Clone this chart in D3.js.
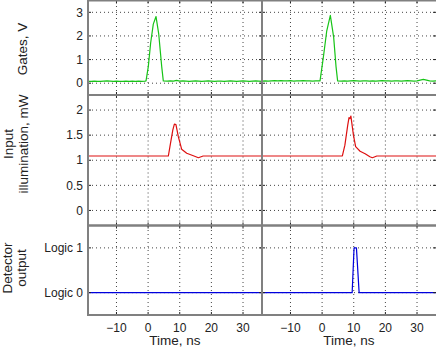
<!DOCTYPE html>
<html lang="en">
<head>
    <meta charset="UTF-8">
    <title>Gates, illumination and detector output</title>
    <style>
        body {
            margin: 0;
            background: #fff;
        }
        svg {
            display: block;
            font-family: 'Liberation Sans', Arial, Helvetica, sans-serif;
        }
        .grid line {
            stroke: #444;
            stroke-width: 1;
            stroke-dasharray: 1, 3;
        }
        .tick-mark {
            stroke: #222;
            stroke-width: 1;
        }
        .frame {
            stroke: #808080;
            stroke-width: 2;
        }
        .trace {
            fill: none;
            stroke-width: 1.2;
            stroke-linejoin: round;
        }
    </style>
</head>
<body>
    <svg id="chart" width="436" height="348"></svg>

    <script src="https://d3js.org/d3.v7.min.js"></script>
    <script>
        // time axis (ns) shared by all panels
        const timeTicks = [-10, 0, 10, 20, 30];

        // gate voltage, V
        const gateLeftTime = [-19,-18,-17,-16,-15,-14,-13,-12,-11,-10,-9,-8,-7,-6,-5,-4,-3,-2,-1,
            -0.66,0.06,0.8,1.64,2.5,3.35,4.3,4.8,
            6,7,8,9,10,11,12,13,14,15,16,17,18,19,20,21,22,23,24,25,26,27,28,29,30,31,32,33,34,35,36];
        const gateLeft = [0.08,0.08,0.09,0.08,0.08,0.09,0.1,0.09,0.08,0.09,0.08,0.08,0.09,0.08,0.09,0.08,0.09,0.08,0.09,
            0.1,0.7,1.7,2.5,2.82,2.09,0.7,0.1,
            0.09,0.1,0.09,0.12,0.09,0.1,0.09,0.08,0.09,0.1,0.09,0.08,0.09,0.1,0.09,0.08,0.09,0.09,0.08,0.09,0.1,0.09,0.08,0.09,0.1,0.09,0.08,0.09,0.1,0.09,0.08];
        const gateRightTime = [-19,-18,-17,-16,-15,-14,-13,-12,-11,-10,-9,-8,-7,-6,-5,-4,-3,-2,-1,
            -0.66,0.4,1.45,2.6,3.65,4.4,4.9,
            6,7,8,9,10,11,12,13,14,15,16,17,18,19,20,21,22,23,24,25,26,27,28,29,30,31,32,33,34,35,36];
        const gateRight = [0.09,0.1,0.09,0.1,0.11,0.1,0.11,0.1,0.1,0.11,0.09,0.1,0.1,0.11,0.1,0.1,0.09,0.1,0.1,
            0.1,1.1,2.2,2.87,1.95,0.7,0.1,
            0.09,0.1,0.09,0.1,0.11,0.1,0.09,0.1,0.1,0.09,0.1,0.09,0.1,0.11,0.1,0.1,0.09,0.1,0.1,0.09,0.1,0.11,0.1,0.09,0.1,0.13,0.16,0.13,0.1,0.09,0.1];

        // input illumination, mW
        const lightLeftTime = [-19,6.4,6.9,7.8,8.3,8.8,9.55,10.6,12.2,14.3,15.9,17.4,36];
        const lightLeft = [1.085,1.085,1.27,1.6,1.72,1.71,1.47,1.22,1.14,1.09,1.05,1.085,1.085];
        const lightRightTime = [-19,6.4,7.2,8.1,8.5,8.8,9.1,9.9,10.6,12.0,13.6,15.1,15.9,17.3,36];
        const lightRight = [1.085,1.085,1.3,1.7,1.85,1.83,1.88,1.5,1.27,1.18,1.13,1.07,1.05,1.085,1.085];

        // detector output, logic level
        const detLeftTime = [-19, 36];
        const detLeft = [0, 0];
        const detRightTime = [-19, 9.5, 10.1, 10.85, 11.7, 36];
        const detRight = [0, 0, 1, 1, 0, 0];

        const rows = [
            { label: ["Gates, V"], domain: [-0.5, 3.5], ticks: [0, 1, 2, 3], tickText: d => d,
              y0: 95, y1: 0.5, color: "#17c417",
              series: [[gateLeftTime, gateLeft], [gateRightTime, gateRight]], labelX: [26.5], labelY: 49 },
            { label: ["Input", "illumination, mW"], domain: [-0.3, 2.3], ticks: [0, 0.5, 1, 1.5, 2], tickText: d => d,
              y0: 225.5, y1: 95, color: "#dd1010",
              series: [[lightLeftTime, lightLeft], [lightRightTime, lightRight]], labelX: [13, 28], labelY: 144 },
            { label: ["Detector", "output"], domain: [-0.5, 1.5], ticks: [0, 1], tickText: d => "Logic " + d,
              y0: 315, y1: 225.5, color: "#0000dd",
              series: [[detLeftTime, detLeft], [detRightTime, detRight]], labelX: [11.5, 26], labelY: 268 }
        ];

        const columns = [[88, 262], [262, 436]];
        const svg = d3.select("#chart");
        const tickLen = 3;

        columns.forEach((range, c) => {
            const x = d3.scaleLinear().domain([-19, 36]).range(range);

            rows.forEach((row, r) => {
                const y = d3.scaleLinear().domain(row.domain).range([row.y0, row.y1]);
                const g = svg.append("g");

                // dotted grid
                const grid = g.append("g").attr("class", "grid");
                grid.selectAll("line.v")
                    .data(timeTicks)
                    .enter().append("line")
                    .attr("x1", d => x(d)).attr("x2", d => x(d))
                    .attr("y1", row.y0).attr("y2", row.y1);
                grid.selectAll("line.h")
                    .data(row.ticks)
                    .enter().append("line")
                    .attr("x1", range[0]).attr("x2", range[1])
                    .attr("y1", d => y(d)).attr("y2", d => y(d));

                // trace
                const [ts, vs] = row.series[c];
                const pts = ts.map((t, i) => [t, vs[i]]);
                g.append("path")
                    .attr("class", "trace")
                    .attr("stroke", row.color)
                    .attr("d", d3.line().x(d => x(d[0])).y(d => y(d[1]))(pts));

                // inward ticks on all sides
                const ticks = g.append("g");
                timeTicks.forEach(t => {
                    ticks.append("line").attr("class", "tick-mark")
                        .attr("x1", x(t)).attr("x2", x(t))
                        .attr("y1", row.y0).attr("y2", row.y0 - tickLen);
                    ticks.append("line").attr("class", "tick-mark")
                        .attr("x1", x(t)).attr("x2", x(t))
                        .attr("y1", row.y1).attr("y2", row.y1 + tickLen);
                });
                row.ticks.forEach(v => {
                    ticks.append("line").attr("class", "tick-mark")
                        .attr("x1", range[0]).attr("x2", range[0] + tickLen)
                        .attr("y1", y(v)).attr("y2", y(v));
                    ticks.append("line").attr("class", "tick-mark")
                        .attr("x1", range[1]).attr("x2", range[1] - tickLen)
                        .attr("y1", y(v)).attr("y2", y(v));
                });

                // frame (no right edge on the last column, it falls off the page)
                g.append("line").attr("class", "frame")
                    .attr("x1", range[0]).attr("x2", range[1] + 1).attr("y1", row.y1).attr("y2", row.y1);
                g.append("line").attr("class", "frame")
                    .attr("x1", range[0]).attr("x2", range[1] + 1).attr("y1", row.y0).attr("y2", row.y0);
                g.append("line").attr("class", "frame")
                    .attr("x1", range[0]).attr("x2", range[0]).attr("y1", row.y1 - 1).attr("y2", row.y0 + 1);

                // y tick labels + axis label, left column only
                if (c === 0) {
                    g.selectAll("text.ytick")
                        .data(row.ticks)
                        .enter().append("text")
                        .attr("x", range[0] - 5)
                        .attr("y", d => y(d))
                        .attr("dy", "0.35em")
                        .attr("text-anchor", "end")
                        .attr("font-size", 12)
                        .attr("fill", "#222")
                        .text(row.tickText);

                    row.label.forEach((txt, i) => {
                        g.append("text")
                            .attr("transform", `translate(${row.labelX[i]},${row.labelY}) rotate(-90)`)
                            .attr("text-anchor", "middle")
                            .attr("font-size", 13.5)
                            .attr("fill", "#222")
                            .text(txt);
                    });
                }

                // x tick labels on the bottom row
                if (r === rows.length - 1) {
                    g.selectAll("text.xtick")
                        .data(timeTicks)
                        .enter().append("text")
                        .attr("x", d => x(d))
                        .attr("y", 331.5)
                        .attr("text-anchor", "middle")
                        .attr("font-size", 12)
                        .attr("fill", "#222")
                        .text(d => d < 0 ? "\u2212" + Math.abs(d) : d);

                    g.append("text")
                        .attr("x", (range[0] + range[1]) / 2)
                        .attr("y", 345)
                        .attr("text-anchor", "middle")
                        .attr("font-size", 13.5)
                        .attr("fill", "#222")
                        .text("Time, ns");
                }
            });
        });
    </script>
</body>
</html>
